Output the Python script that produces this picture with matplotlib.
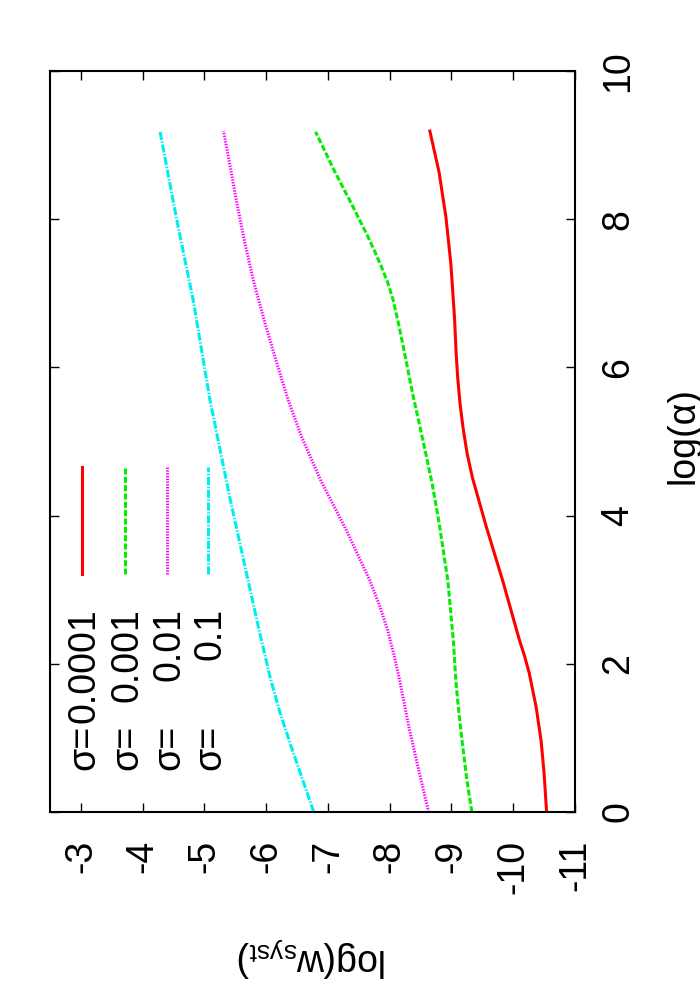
import matplotlib
matplotlib.use('Agg')
import matplotlib.pyplot as plt

plt.rcParams['font.family'] = ['Liberation Sans', 'DejaVu Sans']
plt.rcParams['mathtext.default'] = 'regular'
plt.rcParams['lines.scale_dashes'] = False

# data: log(alpha) on one axis, log(w_syst) on the other, one curve per sigma
sigma_labels = ['0.0001', '0.001', '0.01', '0.1']

alpha_1 = [0, 0.52, 0.97, 1.42, 1.87, 2.1, 2.32, 3.12, 3.86, 4.51, 4.83, 5.17, 5.5, 5.87, 6.2, 6.66,
           7.40, 8.03, 8.63, 9.19]
w_1 = [-10.54, -10.50, -10.45, -10.37, -10.26, -10.185, -10.10, -9.83, -9.56, -9.34, -9.255, -9.19,
       -9.14, -9.10, -9.075, -9.05, -8.99, -8.91, -8.80, -8.65]

alpha_2 = [0, 0.43, 0.97, 1.42, 1.78, 2.32, 3.13, 3.9, 4.42, 4.97, 5.65, 6.32, 6.6, 6.91, 7.14, 7.36,
           7.56, 7.76, 8.21, 8.66, 9.18]
w_2 = [-9.33, -9.25, -9.17, -9.11, -9.07, -9.03, -8.94, -8.80, -8.69, -8.55, -8.37, -8.21, -8.14,
       -8.055, -7.97, -7.865, -7.76, -7.65, -7.38, -7.10, -6.80]

alpha_3 = [0, 0.53, 1.11, 1.78, 2.1, 2.46, 2.8, 3.13, 3.46, 3.80, 4.48, 5.07, 5.55, 6.05, 6.6, 7.15,
           7.7, 8.24, 8.7, 9.19]
w_3 = [-8.63, -8.48, -8.32, -8.16, -8.075, -7.965, -7.83, -7.675, -7.49, -7.30, -6.88, -6.57, -6.36,
       -6.175, -5.98, -5.80, -5.65, -5.52, -5.42, -5.31]

alpha_4 = [0, 0.92, 1.35, 1.83, 2.4, 3.0, 4.21, 5.56, 6.90, 8.0, 9.19]
w_4 = [-6.77, -6.39, -6.22, -6.06, -5.90, -5.74, -5.42, -5.09, -4.82, -4.55, -4.28]

w_ticks = [-3, -4, -5, -6, -7, -8, -9, -10, -11]
alpha_ticks = [0, 2, 4, 6, 8, 10]

colors = ['#ff0000', '#00ee00', '#ff00ff', '#00eeee']
styles = ['-', (0, (4.3, 1.7)), (0, (1.0, 1.0)), (0, (5.8, 1.2, 1.0, 1.2))]

fs = 27

fig = plt.figure(figsize=(7, 10), dpi=100)
ax = fig.add_axes([50 / 700, 188 / 1000, 525 / 700, 741 / 1000])

# the page is turned: log(w) runs along x (reversed), log(alpha) up the page
curves = [(alpha_1, w_1), (alpha_2, w_2), (alpha_3, w_3), (alpha_4, w_4)]
for (a, w), c, ls in zip(curves, colors, styles):
    ax.plot(w, a, color=c, ls=ls, lw=2.2, dash_capstyle='butt')

ax.set_xlim(-2.5, -11)
ax.set_ylim(0, 10)
ax.set_xticks(w_ticks)
ax.set_xticklabels([str(t) for t in w_ticks])
ax.set_yticks(alpha_ticks)
ax.set_yticklabels([str(t) for t in alpha_ticks])

ax.tick_params(axis='x', direction='in', length=6.5, width=1, top=True, bottom=True,
               labelrotation=90, labelsize=fs, pad=20)
ax.tick_params(axis='y', direction='in', length=6.5, width=1, left=True, right=True,
               labelleft=False, labelright=True, labelrotation=90, labelsize=fs, pad=18)
for lab in ax.get_yticklabels():
    lab.set_va('center')
for sp in ax.spines.values():
    sp.set_linewidth(1.5)

# hand-made legend, turned with the page
leg_x = [0.0604, 0.1429, 0.2223, 0.3010]
for xf, c, ls, lab in zip(leg_x, colors, styles, sigma_labels):
    ax.plot([xf, xf], [0.321, 0.465], transform=ax.transAxes, color=c, ls=ls,
            lw=2.2, dash_capstyle='butt')
    ax.text(xf + 0.005, 0.057, '\u03c3=', transform=ax.transAxes, rotation=90,
            ha='center', va='bottom', fontsize=fs)
    ax.text(xf + 0.005, 0.275, lab, transform=ax.transAxes, rotation=90,
            ha='center', va='top', fontsize=fs)

fig.text(312 / 700, 1 - 957 / 1000, 'log(w$_{syst}$)', rotation=180,
         ha='center', va='center', fontsize=fs)
fig.text(684 / 700, 1 - 435 / 1000, 'log(\u03b1)', rotation=90,
         ha='center', va='center', fontsize=fs)

fig.savefig('out.png', dpi=100)
